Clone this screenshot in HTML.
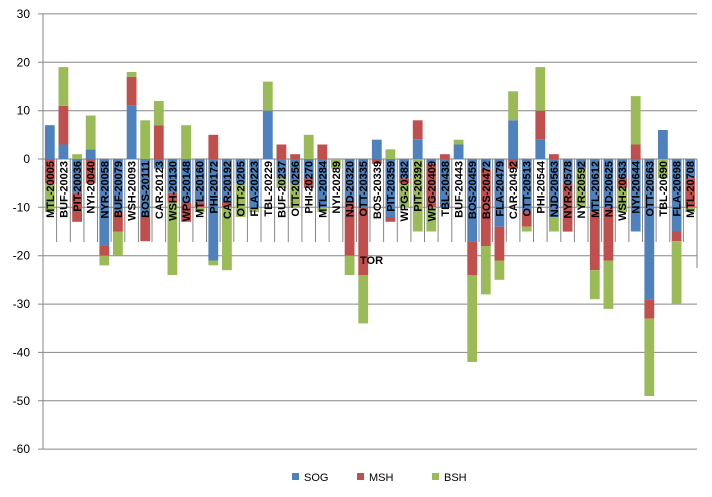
<!DOCTYPE html>
<html><head><meta charset="utf-8"><style>
html,body{margin:0;padding:0;background:#fff;}
svg{display:block;font-family:"Liberation Sans",sans-serif;}
</style></head><body>
<svg id="c" width="712" height="497" xmlns="http://www.w3.org/2000/svg"></svg>
<script>
var labels=["MTL-20005","BUF-20023","PIT-20036","NYI-20040","NYR-20058","BUF-20079","WSH-20093","BOS-20111","CAR-20123","WSH-20130","WPG-20148","MTL-20160","PHI-20172","CAR-20192","OTT-20205","FLA-20223","TBL-20229","BUF-20237","OTT-20256","PHI-20270","MTL-20284","NYI-20289","NJD-20320","OTT-20335","BOS-20339","PIT-20359","WPG-20382","PIT-20392","WPG-20409","TBL-20438","BUF-20443","BOS-20459","BOS-20472","FLA-20479","CAR-20492","OTT-20513","PHI-20544","NJD-20563","NYR-20578","NYR-20592","MTL-20612","NJD-20625","WSH-20633","NYI-20644","OTT-20663","TBL-20690","FLA-20698","MTL-20708"];
var pos=[[7,0,0],[3,8,8],[0,0,1],[2,0,7],[0,0,0],[0,0,0],[11,6,1],[0,0,8],[0,7,5],[0,0,0],[0,0,7],[0,0,0],[0,5,0],[0,0,0],[0,0,0],[0,0,0],[10,0,6],[0,3,0],[0,1,0],[0,0,5],[0,3,0],[0,0,0],[0,0,0],[0,0,0],[4,0,0],[0,0,2],[0,0,0],[4,4,0],[0,0,0],[0,1,0],[3,0,1],[0,0,0],[0,0,0],[0,0,0],[8,0,6],[0,0,0],[4,6,9],[0,1,0],[0,0,0],[0,0,0],[0,0,0],[0,0,0],[0,0,0],[0,3,10],[0,0,0],[6,0,0],[0,0,0],[0,0,0]];
var neg=[[0,5,6],[0,0,0],[7,6,0],[0,5,0],[18,2,2],[11,4,5],[0,0,0],[12,5,0],[2,0,0],[7,2,15],[9,4,0],[9,1,1],[21,0,1],[9,1,13],[5,0,7],[10,0,1],[0,0,0],[4,0,2],[5,0,5],[4,2,0],[10,0,1],[0,0,2],[9,11,4],[10,14,10],[0,1,0],[12,1,0],[4,1,5],[0,0,15],[1,9,5],[10,0,0],[0,0,0],[17,7,18],[2,16,10],[14,7,4],[0,2,0],[11,3,1],[0,0,0],[12,0,3],[5,10,0],[2,0,8],[11,12,6],[10,11,10],[4,2,5],[15,0,0],[29,4,16],[0,0,4],[15,2,13],[4,6,1]];
var col=["#4F81BD","#C0504D","#9BBB59"];
var s='';
var x0=43,x1=697,y0=159,k=4.835,n=48,w=(x1-x0)/n,bw=9.8;
function Y(v){return y0-v*k;}
for(var v=30;v>=-60;v-=10){var y=Y(v).toFixed(1);
 s+='<line x1="'+(x0-5)+'" y1="'+y+'" x2="'+x1+'" y2="'+y+'" stroke="#868686" stroke-width="1"/>';
 s+='<text x="30" y="'+(+y+4)+'" font-size="12" text-anchor="end" fill="#000">'+v+'</text>';}
s+='<line x1="'+x0+'" y1="'+Y(30)+'" x2="'+x0+'" y2="'+Y(-60)+'" stroke="#868686"/>';
for(var i=0;i<n;i++){var cx=x0+w*(i+0.5),bx=(cx-bw/2).toFixed(1);
 var acc=0;for(var j=0;j<3;j++){var v=pos[i][j];if(v>0){s+='<rect x="'+bx+'" y="'+Y(acc+v).toFixed(1)+'" width="'+bw+'" height="'+(v*k).toFixed(1)+'" fill="'+col[j]+'"/>';acc+=v;}}
 acc=0;for(var j=0;j<3;j++){var v=neg[i][j];if(v>0){s+='<rect x="'+bx+'" y="'+Y(-acc).toFixed(1)+'" width="'+bw+'" height="'+(v*k).toFixed(1)+'" fill="'+col[j]+'"/>';acc+=v;}}
}
for(var i=0;i<=n;i++){var x=(x0+w*i).toFixed(1);s+='<line x1="'+x+'" y1="'+y0+'" x2="'+x+'" y2="'+(i==n?268:242)+'" stroke="#868686"/>';}
for(var i=0;i<n;i++){var cx=x0+w*(i+0.5)+4;
 s+='<text transform="translate('+cx.toFixed(1)+',161) rotate(-90)" font-size="11" font-weight="bold" text-anchor="end" fill="#000">'+labels[i]+'</text>';}
s+='<text x="360" y="264" font-size="11" font-weight="bold" fill="#000">TOR</text>';
var lg=[["SOG",292],["MSH",357],["BSH",432]];
for(var j=0;j<3;j++){s+='<rect x="'+lg[j][1]+'" y="473" width="7" height="7" fill="'+col[j]+'"/><text x="'+(lg[j][1]+12)+'" y="481" font-size="11" fill="#000">'+lg[j][0]+'</text>';}
document.getElementById('c').innerHTML=s;
</script>
</body></html>
